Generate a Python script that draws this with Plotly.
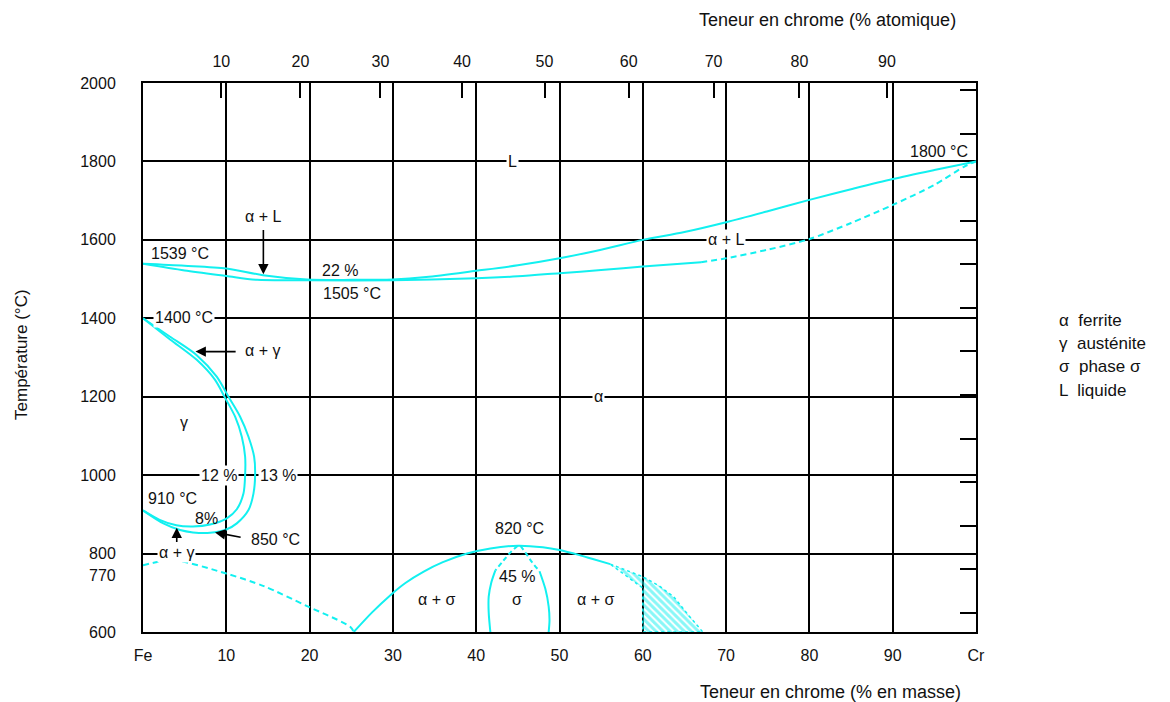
import plotly.graph_objects as go

CYAN = "#12f0f0"
FONT = "Liberation Sans, Arial, sans-serif"
TXT = "#111111"

# ---- data (wt % Cr, temperature °C) ----
liq_wt = [0, 5, 10, 14.4, 19.7, 25, 30, 34, 40, 45, 50, 55, 60, 65, 70, 75, 80, 85, 90, 95, 100]
liq_T = [1539, 1534, 1527, 1510, 1499, 1498, 1499, 1505, 1521, 1535, 1553, 1575, 1600, 1620, 1645, 1673, 1702, 1729, 1755, 1778, 1800]

sol_wt = [0, 5, 10, 13.7, 20, 30, 40, 45, 50, 55, 60, 67]
sol_T = [1539, 1522, 1508, 1498, 1497, 1497, 1502, 1507, 1515, 1523, 1532, 1543]
sol_dash_wt = [67, 70, 75, 80, 85, 90, 95, 98.6, 100]
sol_dash_T = [1543, 1553, 1575, 1602, 1643, 1689, 1740, 1787, 1800]

loop_out_wt = [0, 3.25, 6.45, 8.85, 10.26, 11.66, 12.66, 13.34, 13.46, 13.26, 12.66, 11.26, 10.06, 8.05, 6.0, 4.45, 2.44, 0]
loop_out_T = [1400, 1353, 1306, 1251, 1200, 1149, 1098, 1047, 1000, 953, 911, 877, 862, 853, 854, 860, 877, 910]
loop_in_wt = [0, 3.25, 6.45, 8.65, 9.78, 11.06, 11.86, 12.26, 12.26, 12.06, 11.26, 10.06, 8.05, 6.0, 4.0, 2.0, 0]
loop_in_T = [1400, 1346, 1294, 1243, 1200, 1149, 1098, 1047, 1000, 953, 913, 890, 874, 869, 872, 886, 910]

curie_wt = [0, 3.6, 10, 14.5, 19.7, 24.9, 25.3]
curie_T = [770, 783, 749, 717, 666, 613, 600]

dome_wt = [25.3, 27.5, 29.7, 31.5, 33.7, 36, 38.9, 41.7, 45, 48, 50, 52.4, 54, 56.1]
dome_T = [600, 650, 694, 725, 754, 778, 800, 813, 820, 816, 809, 796, 786, 773]

hatch_wt = [56.1, 58, 60, 62, 63.7, 65.4, 66.3, 67.2, 60, 60, 56.1]
hatch_T = [773, 758, 741, 717, 690, 645, 622, 600, 600, 712, 773]

sig_l_dash_wt = [45, 44.2, 43.3, 42.3]
sig_l_dash_T = [820, 805, 783, 757]
sig_l_wt = [42.3, 41.8, 41.5, 41.5, 41.7]
sig_l_T = [757, 725, 690, 650, 600]
sig_r_dash_wt = [45.3, 46.0, 46.7, 47.6]
sig_r_dash_T = [820, 800, 778, 755]
sig_r_wt = [47.6, 48.3, 48.7, 48.8, 48.7]
sig_r_T = [755, 710, 665, 630, 600]

# ---- axes ----
x_ticks = [0, 10, 20, 30, 40, 50, 60, 70, 80, 90, 100]
x_ticktext = ["Fe", "10", "20", "30", "40", "50", "60", "70", "80", "90", "Cr"]
y_ticks = [600, 800, 1000, 1200, 1400, 1600, 1800, 2000]
at_pos_wt = [9.4, 18.9, 28.5, 38.3, 48.2, 58.3, 68.5, 78.8, 89.3]
at_labels = ["10", "20", "30", "40", "50", "60", "70", "80", "90"]
f_ticks = [1200, 1400, 1600, 1800, 2000, 2200, 2400, 2600, 2800, 3000, 3200, 3400, 3600]

# ---- text labels ----
bg_labels = [("L", 44.35, 1800), ("α + L", 70, 1600), ("α", 54.7, 1200),
             ("12 %", 9.1, 1000), ("13 %", 16.2, 1000), ("1400 °C", 4.9, 1403),
             ("α + γ", 4.05, 803)]
plain_labels = [("1539 °C", 4.4, 1566), ("α + L", 14.4, 1659), ("22 %", 23.6, 1521),
                ("1505 °C", 25.1, 1462), ("1800 °C", 95.5, 1825), ("α + γ", 14.4, 1319),
                ("γ", 4.9, 1135), ("910 °C", 3.6, 941), ("8%", 7.65, 890),
                ("850 °C", 15.9, 835), ("820 °C", 45.2, 864), ("45 %", 44.9, 741),
                ("σ", 44.9, 682), ("α + σ", 35.2, 682), ("α + σ", 54.3, 682)]
arrows = [((14.45, 1512), (14.45, 1629)), ((6.3, 1315), (11.3, 1315)),
          ((8.65, 854), (11.9, 841)), ((4.05, 866), (4.05, 826))]
legend_lines = ["α  ferrite", "γ  austénite", "σ  phase σ", "L  liquide"]

fig = go.Figure()

def line(x, y, dash=None, width=2):
    fig.add_trace(go.Scatter(x=x, y=y, mode="lines", showlegend=False, hoverinfo="skip",
                             line=dict(color=CYAN, width=width, dash=dash, shape="spline", smoothing=0.8)))

fig.add_trace(go.Scatter(x=hatch_wt, y=hatch_T, mode="lines", fill="toself", showlegend=False,
                         hoverinfo="skip", fillcolor="rgba(0,0,0,0)",
                         fillpattern=dict(shape="\\", fgcolor=CYAN, bgcolor="rgba(255,255,255,0)",
                                          size=5, solidity=0.6),
                         line=dict(color=CYAN, width=1.5, dash="dot")))
line(liq_wt, liq_T)
line(sol_wt, sol_T)
line(sol_dash_wt, sol_dash_T, dash="6px,4px")
line(loop_out_wt, loop_out_T)
line(loop_in_wt, loop_in_T)
line(curie_wt, curie_T, dash="6px,4px")
line(dome_wt, dome_T)
line(sig_l_dash_wt, sig_l_dash_T, dash="5px,3px")
line(sig_l_wt, sig_l_T)
line(sig_r_dash_wt, sig_r_dash_T, dash="5px,3px")
line(sig_r_wt, sig_r_T)

# dummy trace for secondary axes (top at %, right °F)
fig.add_trace(go.Scatter(x=[None], y=[None], xaxis="x2", yaxis="y2", showlegend=False))

FS = 16
ann = []
for t, x, y in bg_labels:
    ann.append(dict(x=x, y=y, text=t, showarrow=False, bgcolor="white", borderpad=1,
                    font=dict(size=FS, color=TXT, family=FONT)))
for t, x, y in plain_labels:
    ann.append(dict(x=x, y=y, text=t, showarrow=False,
                    font=dict(size=FS, color=TXT, family=FONT)))
for (hx, hy), (tx, ty) in arrows:
    ann.append(dict(x=hx, y=hy, ax=tx, ay=ty, axref="x", ayref="y", text="", showarrow=True,
                    arrowhead=2, arrowsize=1.3, arrowwidth=1.6, arrowcolor="#000"))
ann.append(dict(x=0, y=770, xref="x", yref="y", text="770", showarrow=False, xanchor="right",
                xshift=-25, yshift=-10, font=dict(size=FS, color=TXT, family=FONT)))
for i, t in enumerate(legend_lines):
    ann.append(dict(x=1.097, y=0.568 - i * 0.0425, xref="paper", yref="paper", text=t,
                    showarrow=False, xanchor="left", yanchor="middle",
                    font=dict(size=17, color=TXT, family=FONT)))
ann.append(dict(x=0.825, y=-0.109, xref="paper", yref="paper", text="Teneur en chrome (% en masse)",
                showarrow=False, xanchor="center", yanchor="middle",
                font=dict(size=18, color=TXT, family=FONT)))
ann.append(dict(x=0.822, y=1.115, xref="paper", yref="paper", text="Teneur en chrome (% atomique)",
                showarrow=False, xanchor="center", yanchor="middle",
                font=dict(size=18, color=TXT, family=FONT)))
ann.append(dict(x=-0.145, y=0.505, xref="paper", yref="paper", text="Température (°C)",
                textangle=-90, showarrow=False, xanchor="center", yanchor="middle",
                font=dict(size=17, color=TXT, family=FONT)))

fig.update_layout(
    width=1170, height=702,
    margin=dict(l=135, r=202, t=75, b=78),
    paper_bgcolor="white", plot_bgcolor="white",
    showlegend=False,
    annotations=ann,
    xaxis=dict(range=[0, 100], tickvals=x_ticks, ticktext=x_ticktext, showgrid=True,
               gridcolor="#000", gridwidth=1.5, showline=True, linecolor="#000", linewidth=2,
               mirror=True, ticks="", zeroline=False, ticklabelstandoff=8,
               tickfont=dict(size=FS, color=TXT, family=FONT)),
    yaxis=dict(range=[600, 2000], tickvals=y_ticks, showgrid=True, gridcolor="#000",
               gridwidth=1.5, showline=True, linecolor="#000", linewidth=2, mirror=True,
               ticks="", zeroline=False, ticklabelstandoff=22,
               tickfont=dict(size=FS, color=TXT, family=FONT)),
    xaxis2=dict(range=[0, 100], overlaying="x", side="top", anchor="y", tickvals=at_pos_wt,
                ticktext=at_labels, ticks="inside", ticklen=15, tickwidth=1.5, tickcolor="#000",
                showgrid=False, showline=False, zeroline=False, ticklabelstandoff=12,
                tickfont=dict(size=FS, color=TXT, family=FONT)),
    yaxis2=dict(range=[1112, 3632], overlaying="y", side="right", anchor="x", tickvals=f_ticks,
                ticks="inside", ticklen=16, tickwidth=1.5, tickcolor="#000",
                showticklabels=False, showgrid=False, showline=False, zeroline=False),
)

fig.write_html("out.html")
